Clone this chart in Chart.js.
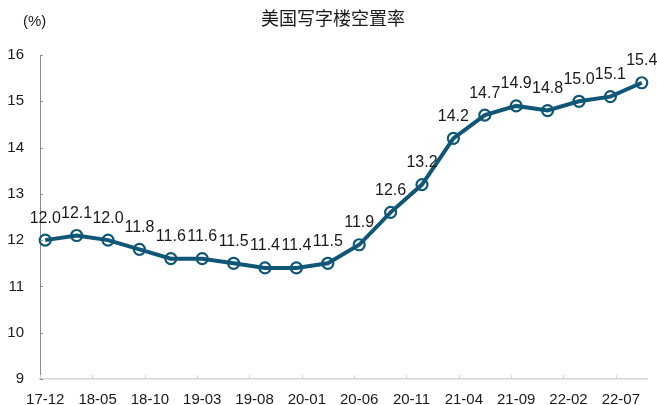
<!DOCTYPE html>
<html>
<head>
<meta charset="utf-8">
<script src="https://cdn.jsdelivr.net/npm/chart.js@4"></script>
<style>
  html, body { margin: 0; padding: 0; background: #fff; }
  #wrap { width: 657px; height: 405px; }
</style>
</head>
<body>
<div id="wrap"><canvas id="vacancy"></canvas></div>
<script>
// quarterly readings, month axis from 17-12 to 22-09
const quarters = ['17-12', '18-03', '18-06', '18-09', '18-12', '19-03', '19-06', '19-09', '19-12', '20-03',
                  '20-06', '20-09', '20-12', '21-03', '21-06', '21-09', '21-12', '22-03', '22-06', '22-09'];
const vacancy = [12.0, 12.1, 12.0, 11.8, 11.6, 11.6, 11.5, 11.4, 11.4, 11.5,
                 11.9, 12.6, 13.2, 14.2, 14.7, 14.9, 14.8, 15.0, 15.1, 15.4];
const yTicks = [9, 10, 11, 12, 13, 14, 15, 16];

const months = [];
for (let y = 17, m = 12; ; m++) {
    if (m > 12) { m = 1; y++; }
    if (y === 22 && m === 10) break;
    months.push(y + '-' + String(m).padStart(2, '0'));
}

const lineColor = '#0f5677';
const fontFamily = '"Liberation Sans", Arial, sans-serif';

// value labels over each point
const pointLabels = {
    id: 'pointLabels',
    afterDatasetsDraw(chart) {
        const { ctx } = chart;
        ctx.save();
        ctx.font = '16px ' + fontFamily;
        ctx.fillStyle = '#1a1a1a';
        ctx.textAlign = 'center';
        ctx.textBaseline = 'middle';
        chart.getDatasetMeta(0).data.forEach((pt, i) => {
            ctx.fillText(vacancy[i].toFixed(1), pt.x, pt.y - 22);
        });
        ctx.restore();
    }
};

// inward tick marks, title and unit text
const extras = {
    id: 'extras',
    afterDraw(chart) {
        const { ctx, scales: { x, y } } = chart;
        ctx.save();
        const step = x.getPixelForValue(1) - x.getPixelForValue(0);
        ctx.strokeStyle = '#d4d4d4';
        ctx.lineWidth = 1;
        months.forEach((m, i) => {
            if (i % 5 !== 0) return;
            const px = Math.round(x.getPixelForValue(i) - step / 2) + 0.5;
            ctx.beginPath();
            ctx.moveTo(px, y.bottom);
            ctx.lineTo(px, y.bottom - 4);
            ctx.stroke();
        });
        ctx.strokeStyle = '#8c8c8c';
        yTicks.forEach(v => {
            const py = Math.round(y.getPixelForValue(v)) + 0.5;
            ctx.beginPath();
            ctx.moveTo(x.left, py);
            ctx.lineTo(x.left + 3, py);
            ctx.stroke();
        });

        ctx.fillStyle = '#1a1a1a';
        ctx.textBaseline = 'middle';
        ctx.font = '15px ' + fontFamily;
        ctx.textAlign = 'left';
        ctx.fillText('(%)', 23, 22);
        ctx.textAlign = 'center';
        ctx.font = '18px "Noto Sans CJK SC", sans-serif';
        ctx.fillText('美国写字楼空置率', 333, 18);
        ctx.restore();
    }
};

new Chart(document.getElementById('vacancy').getContext('2d'), {
    type: 'line',
    data: {
        labels: months,
        datasets: [{
            data: quarters.map((q, i) => ({ x: q, y: vacancy[i] })),
            borderColor: lineColor,
            borderWidth: 4,
            pointRadius: 5.5,
            pointBorderWidth: 2.2,
            pointBorderColor: lineColor,
            pointBackgroundColor: 'rgba(0,0,0,0)',
            tension: 0
        }]
    },
    options: {
        responsive: true,
        maintainAspectRatio: false,
        animation: false,
        layout: { padding: { top: 55, right: 10, left: 0, bottom: 0 } },
        plugins: { legend: { display: false }, tooltip: { enabled: false } },
        scales: {
            x: {
                type: 'category',
                offset: true,
                grid: { display: false },
                border: { display: true, color: '#d4d4d4', width: 1.5 },
                ticks: {
                    autoSkip: false,
                    maxRotation: 0,
                    padding: 4,
                    color: '#1a1a1a',
                    font: { family: fontFamily, size: 15 },
                    callback(val, idx) { return idx % 5 === 0 ? this.getLabelForValue(val) : null; }
                },
                afterFit(scale) { scale.height = 26; }
            },
            y: {
                min: 9,
                max: 16,
                grid: { display: false },
                border: { display: true, color: '#8c8c8c', width: 1 },
                ticks: {
                    stepSize: 1,
                    padding: 8,
                    color: '#1a1a1a',
                    font: { family: fontFamily, size: 15 }
                },
                afterFit(scale) { scale.width = 40; }
            }
        }
    },
    plugins: [pointLabels, extras]
});
</script>
</body>
</html>
